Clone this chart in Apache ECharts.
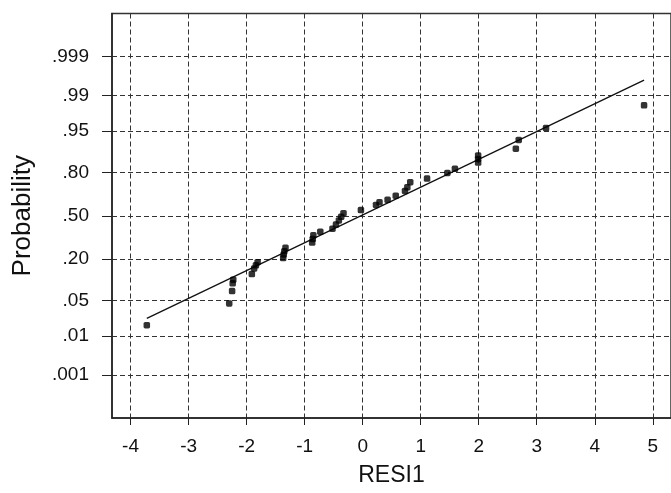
<!DOCTYPE html>
<html>
<head>
<meta charset="utf-8">
<script src="https://cdn.jsdelivr.net/npm/echarts@6/dist/echarts.min.js"></script>
<style>html,body{margin:0;padding:0;background:#fff;}#chart{width:671px;height:493px;}</style>
</head>
<body>
<div id="chart"></div>
<script>
// Residuals (RESI1) and their normal scores (z of plotting probability)
var resid = [-3.72, -2.30, -2.25, -2.24, -2.23, -1.91, -1.87, -1.84, -1.81,
  -1.37, -1.36, -1.35, -1.33, -0.87, -0.86, -0.85, -0.73,
  -0.52, -0.46, -0.41, -0.37, -0.33, -0.03, 0.23, 0.29, 0.43, 0.57,
  0.73, 0.77, 0.82, 1.11, 1.46, 1.59, 1.99, 1.99, 1.99, 2.64, 2.69, 3.16, 4.85];
var score = [-2.12, -1.70, -1.46, -1.31, -1.24, -1.13, -1.02, -0.96, -0.90,
  -0.82, -0.75, -0.69, -0.62, -0.52, -0.45, -0.38, -0.31,
  -0.25, -0.17, -0.09, -0.02, 0.05, 0.11, 0.21, 0.26, 0.31, 0.39,
  0.48, 0.55, 0.65, 0.72, 0.83, 0.91, 1.03, 1.10, 1.17, 1.30, 1.47, 1.70, 2.14];
// fitted line endpoints
var fitX = [-3.72, 4.85];
var fitZ = [-1.99, 2.63];
// axis ticks
var xTicks = [-4, -3, -2, -1, 0, 1, 2, 3, 4, 5];
var probLabels = ['.999', '.99', '.95', '.80', '.50', '.20', '.05', '.01', '.001'];
var probZ = [3.090, 2.326, 1.645, 0.842, 0, -0.842, -1.645, -2.326, -3.090];

var pts = resid.map(function (x, i) { return [x, score[i]]; });
var line = fitX.map(function (x, i) { return [x, fitZ[i]]; });

var font = 'Liberation Sans, Arial, Helvetica, sans-serif';
var chart = echarts.init(document.getElementById('chart'), null, {renderer: 'canvas'});
chart.setOption({
  animation: false,
  backgroundColor: '#fff',
  grid: {left: 112, right: -2, top: 13.5, bottom: 75, show: true, borderColor: '#333', borderWidth: 1.5, backgroundColor: 'transparent'},
  xAxis: {
    type: 'value', min: -4.32, max: 5.314,
    name: 'RESI1', nameLocation: 'middle', nameGap: 46,
    nameTextStyle: {fontFamily: font, fontSize: 23, color: '#111'},
    axisLine: {show: true, onZero: false, lineStyle: {color: '#222', width: 1.5}},
    axisTick: {show: true, length: 7, lineStyle: {color: '#222'}, customValues: xTicks},
    axisLabel: {customValues: xTicks, fontFamily: font, fontSize: 19, color: '#111', margin: 19},
    splitLine: {show: true, lineStyle: {color: '#333', type: [5, 3], width: 1}}
  },
  yAxis: {
    type: 'value', min: -3.92, max: 3.92,
    name: 'Probability', nameLocation: 'middle', nameGap: 76,
    nameTextStyle: {fontFamily: font, fontSize: 26, color: '#111'},
    axisLine: {show: true, onZero: false, lineStyle: {color: '#222', width: 1.5}},
    axisTick: {show: true, length: 10, lineStyle: {color: '#222'}, customValues: probZ},
    axisLabel: {customValues: probZ, fontFamily: font, fontSize: 19, color: '#111', margin: 23,
      formatter: function (v) {
        for (var i = 0; i < probZ.length; i++) { if (Math.abs(probZ[i] - v) < 1e-6) return probLabels[i]; }
        return '';
      }},
    splitLine: {show: true, lineStyle: {color: '#333', type: [5, 3], width: 1}}
  },
  series: [
    {type: 'line', data: line, showSymbol: false, symbol: 'none', lineStyle: {color: '#111', width: 1.3}, z: 3, silent: true},
    {type: 'scatter', data: pts, symbol: 'roundRect', symbolSize: 6.5, itemStyle: {color: '#000'}, z: 4}
  ]
});
</script>
</body>
</html>
